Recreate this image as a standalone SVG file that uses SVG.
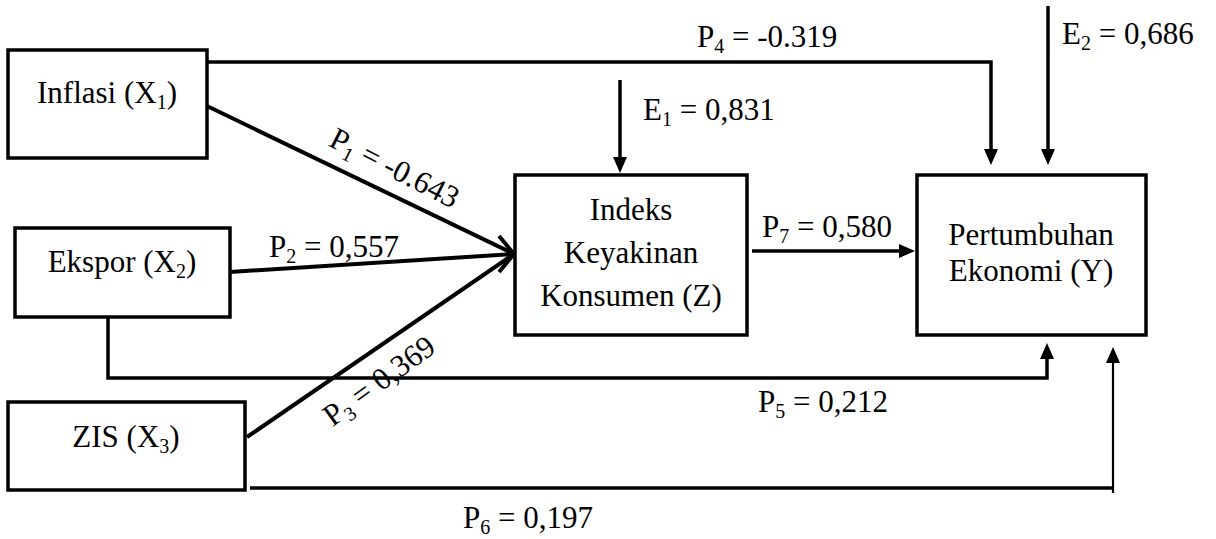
<svg xmlns="http://www.w3.org/2000/svg" width="1216" height="539" viewBox="0 0 1216 539">
<style>
.t{font-family:"Liberation Serif","Times New Roman",serif;font-size:31px;fill:#000}
.m{text-anchor:middle}
.box{fill:#fff;stroke:#000;stroke-width:3.5}
.ln{fill:none;stroke:#000;stroke-width:3.5}
.lt{fill:none;stroke:#000;stroke-width:2.2}
.lk{fill:none;stroke:#000;stroke-width:4}
</style>
<defs>
<marker id="ah" markerUnits="userSpaceOnUse" markerWidth="16" markerHeight="14" refX="6" refY="7" orient="auto">
<path d="M0,0 L16,7 L0,14 Z" fill="#000"/>
</marker>
</defs>
<rect width="1216" height="539" fill="#fff"/>
<g id="connectors">
<path class="ln" d="M207,62 H991 V155" marker-end="url(#ah)"/>
<path class="ln" d="M1048,6 V155" marker-end="url(#ah)"/>
<path class="ln" d="M620,80 V163" marker-end="url(#ah)"/>
<path class="ln" d="M752,251 H905" marker-end="url(#ah)"/>
<path class="ln" d="M108,318 V378 H1047 V353" marker-end="url(#ah)"/>
<path class="ln" d="M250,488 H1113"/>
<path class="lt" d="M1113,493 V357" marker-end="url(#ah)"/>
<path class="lk" d="M207,106 L514,254"/>
<path class="lk" d="M230,272 L514,254"/>
<path class="lk" d="M247,437 L514,254"/>
<path class="lk" d="M499,236 L514,254 L499,272" stroke-width="5"/>
</g>
<g id="labels">
<text class="t" x="697" y="47">P<tspan font-size="20" dy="6">4</tspan><tspan dy="-6"> = -0.319</tspan></text>
<text class="t" x="1062" y="44">E<tspan font-size="20" dy="6">2</tspan><tspan dy="-6"> = 0,686</tspan></text>
<text class="t" x="643" y="120">E<tspan font-size="20" dy="6">1</tspan><tspan dy="-6"> = 0,831</tspan></text>
<text class="t m" x="390" y="177" transform="rotate(27 390 177)">P<tspan font-size="20" dy="6">1</tspan><tspan dy="-6"> = -0.643</tspan></text>
<text class="t" x="269" y="257">P<tspan font-size="20" dy="6">2</tspan><tspan dy="-6"> = 0,557</tspan></text>
<text class="t m" x="385" y="389" transform="rotate(-36 385 389)">P<tspan font-size="20" dy="6">3</tspan><tspan dy="-6"> = 0,369</tspan></text>
<text class="t" x="762" y="237">P<tspan font-size="20" dy="6">7</tspan><tspan dy="-6"> = 0,580</tspan></text>
<text class="t" x="758" y="412">P<tspan font-size="20" dy="6">5</tspan><tspan dy="-6"> = 0,212</tspan></text>
<text class="t" x="463" y="528">P<tspan font-size="20" dy="6">6</tspan><tspan dy="-6"> = 0,197</tspan></text>
</g>
<g id="node-x1">
<rect class="box" x="8" y="50" width="199" height="108"/>
<text class="t m" x="107" y="103">Inflasi (X<tspan font-size="20" dy="6">1</tspan><tspan dy="-6">)</tspan></text>
</g>
<g id="node-x2">
<rect class="box" x="15" y="228" width="215" height="89"/>
<text class="t m" x="122" y="272">Ekspor (X<tspan font-size="20" dy="6">2</tspan><tspan dy="-6">)</tspan></text>
</g>
<g id="node-x3">
<rect class="box" x="8" y="402" width="237" height="88"/>
<text class="t m" x="126" y="447">ZIS (X<tspan font-size="20" dy="6">3</tspan><tspan dy="-6">)</tspan></text>
</g>
<g id="node-z">
<rect class="box" x="515" y="175" width="232" height="160"/>
<text class="t m" x="631" y="220">Indeks</text>
<text class="t m" x="631" y="263">Keyakinan</text>
<text class="t m" x="631" y="306">Konsumen (Z)</text>
</g>
<g id="node-y">
<rect class="box" x="917" y="175" width="229" height="160"/>
<text class="t m" x="1031" y="245">Pertumbuhan</text>
<text class="t m" x="1031" y="281">Ekonomi (Y)</text>
</g>
</svg>
